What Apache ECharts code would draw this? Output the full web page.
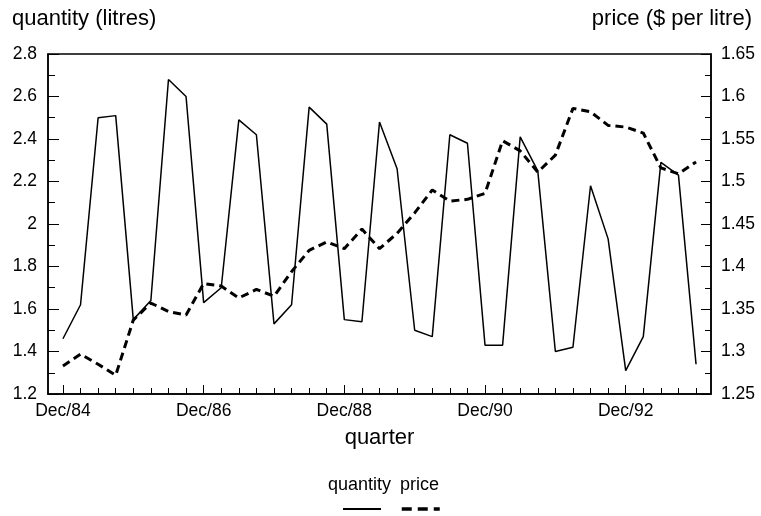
<!DOCTYPE html>
<html>
<head>
<meta charset="utf-8">
<script src="https://cdn.jsdelivr.net/npm/echarts@6/dist/echarts.min.js"></script>
<style>
    html, body { margin: 0; padding: 0; background: #fff; }
    #main { width: 761px; height: 516px; }
</style>
</head>
<body>
<div id="main"></div>
<script type="text/javascript">
    // quarters, Dec/84 .. Dec/93
    var quarters = ['Dec/84', 'Mar/85', 'Jun/85', 'Sep/85', 'Dec/85', 'Mar/86', 'Jun/86', 'Sep/86',
        'Dec/86', 'Mar/87', 'Jun/87', 'Sep/87', 'Dec/87', 'Mar/88', 'Jun/88', 'Sep/88',
        'Dec/88', 'Mar/89', 'Jun/89', 'Sep/89', 'Dec/89', 'Mar/90', 'Jun/90', 'Sep/90',
        'Dec/90', 'Mar/91', 'Jun/91', 'Sep/91', 'Dec/91', 'Mar/92', 'Jun/92', 'Sep/92',
        'Dec/92', 'Mar/93', 'Jun/93', 'Sep/93', 'Dec/93'];
    // litres
    var quantity = [1.46, 1.62, 2.50, 2.51, 1.55, 1.64, 2.68, 2.60,
        1.63, 1.70, 2.49, 2.42, 1.53, 1.62, 2.55, 2.47,
        1.55, 1.54, 2.48, 2.26, 1.50, 1.47, 2.42, 2.38,
        1.43, 1.43, 2.41, 2.25, 1.40, 1.42, 2.18, 1.93,
        1.31, 1.47, 2.29, 2.23, 1.34];
    // $ per litre
    var price = [1.283, 1.297, 1.285, 1.272, 1.337, 1.357, 1.347, 1.343,
        1.380, 1.377, 1.363, 1.373, 1.365, 1.394, 1.419, 1.429,
        1.421, 1.444, 1.421, 1.439, 1.463, 1.490, 1.477, 1.479,
        1.486, 1.548, 1.536, 1.511, 1.531, 1.586, 1.582, 1.566,
        1.564, 1.557, 1.516, 1.509, 1.523];
    var tickLabels = ['Dec/84', 'Dec/86', 'Dec/88', 'Dec/90', 'Dec/92'];

    var font = 'Liberation Sans, Arial, sans-serif';
    var allTicks = quarters.map(function (q, i) { return i; });
    var labelTicks = tickLabels.map(function (t) { return quarters.indexOf(t); });

    function pairs(vals) {
        return vals.map(function (v, i) { return [i, v]; });
    }

    var chart = echarts.init(document.getElementById('main'));
    var option = {
        animation: false,
        textStyle: { fontFamily: font, color: '#000' },
        title: [
            { text: 'quantity (litres)', left: 7, top: 3,
              textStyle: { fontFamily: font, fontSize: 22, fontWeight: 'normal', color: '#000' } },
            { text: 'price ($ per litre)', right: 4, top: 3,
              textStyle: { fontFamily: font, fontSize: 22, fontWeight: 'normal', color: '#000' } }
        ],
        legend: [
            {   // text row
                data: ['quantity', 'price'],
                left: 318, top: 471,
                icon: 'none', itemWidth: 0, itemHeight: 0, itemGap: 4,
                selectedMode: false,
                textStyle: { fontFamily: font, fontSize: 18, color: '#000' }
            },
            {   // line samples row
                data: [
                    { name: 'quantity', lineStyle: { width: 2 } },
                    { name: 'price', lineStyle: { width: 3.5, type: [10, 6] } }
                ],
                left: 337, top: 497,
                itemWidth: 38, itemHeight: 14, itemGap: 18,
                selectedMode: false,
                itemStyle: { opacity: 0 },
                formatter: function () { return ''; }
            }
        ],
        grid: {
            left: 48, right: 50, top: 54, bottom: 122,
            show: true, borderColor: '#000', borderWidth: 1.5, backgroundColor: 'transparent'
        },
        xAxis: [
            {
                type: 'value', min: -0.85, max: 36.85,
                name: 'quarter', nameLocation: 'middle', nameGap: 33,
                nameTextStyle: { fontFamily: font, fontSize: 22, color: '#000' },
                axisLine: { show: true, onZero: false, lineStyle: { color: '#000', width: 1.5 } },
                axisTick: { show: true, inside: true, length: 6, customValues: allTicks,
                            lineStyle: { color: '#000', width: 1 } },
                axisLabel: { customValues: labelTicks, margin: 8, fontSize: 17.5, color: '#000',
                             formatter: function (v) { return quarters[v]; } },
                splitLine: { show: false }
            },
            {
                type: 'value', min: -0.85, max: 36.85, position: 'bottom',
                axisLine: { show: false, onZero: false },
                axisTick: { show: true, inside: true, length: 9, customValues: labelTicks,
                            lineStyle: { color: '#000', width: 1 } },
                axisLabel: { show: false },
                splitLine: { show: false }
            }
        ],
        yAxis: [
            {
                type: 'value', min: 1.2, max: 2.8, interval: 0.2,
                axisLine: { show: true, onZero: false, lineStyle: { color: '#000', width: 1.5 } },
                axisTick: { show: true, inside: true, length: 11, lineStyle: { color: '#000' } },
                minorTick: { show: true, splitNumber: 2, length: 7, lineStyle: { color: '#000' } },
                axisLabel: { margin: 11, fontSize: 17.5, color: '#000' },
                splitLine: { show: false }
            },
            {
                type: 'value', position: 'right', min: 1.25, max: 1.65, interval: 0.05,
                axisLine: { show: true, onZero: false, lineStyle: { color: '#000', width: 1.5 } },
                axisTick: { show: true, inside: true, length: 10, lineStyle: { color: '#000' } },
                minorTick: { show: true, splitNumber: 2, length: 6, lineStyle: { color: '#000' } },
                axisLabel: { margin: 10, fontSize: 17.5, color: '#000' },
                splitLine: { show: false }
            }
        ],
        series: [
            {
                name: 'quantity', type: 'line', xAxisIndex: 0, yAxisIndex: 0,
                data: pairs(quantity), symbol: 'none',
                lineStyle: { color: '#000', width: 1.5 },
                itemStyle: { color: '#000' }
            },
            {
                name: 'price', type: 'line', xAxisIndex: 0, yAxisIndex: 1,
                data: pairs(price), symbol: 'none',
                lineStyle: { color: '#000', width: 3, type: [8, 5] },
                itemStyle: { color: '#000' }
            }
        ]
    };
    chart.setOption(option);
</script>
</body>
</html>
